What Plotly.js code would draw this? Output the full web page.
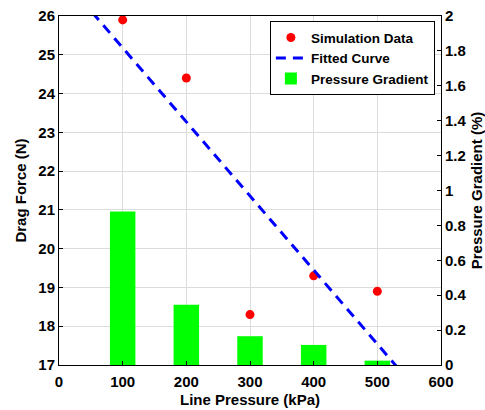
<!DOCTYPE html>
<html>
<head>
<meta charset="utf-8">
<script src="https://cdn.plot.ly/plotly-3.0.1.min.js"></script>
<style>html,body{margin:0;padding:0;background:#fff;}#chart{width:485px;height:410px;}</style>
</head>
<body>
<div id="chart"></div>
<script>
// Data
const pressure = [100, 200, 300, 400, 500];            // Line Pressure (kPa)
const dragForce = [25.9, 24.4, 18.3, 19.3, 18.9];      // Simulation Data (N)
const gradient = [0.88, 0.345, 0.165, 0.115, 0.025];   // Pressure Gradient (%)
const fitX = [0, 600];                                 // Fitted Curve endpoints (kPa)
const fitY = [27.09, 15.63];                           // Fitted Curve values (N)

const FAM = 'Liberation Sans, Arial, sans-serif';
const boldFont = (s) => ({family: FAM, size: s, color: '#000', weight: 'bold'});

const traces = [
  {
    type: 'bar', x: pressure, y: gradient, width: 40,
    name: 'Pressure Gradient', legendrank: 3,
    marker: {color: '#00ff00', line: {width: 0}},
    xaxis: 'x', yaxis: 'y'
  },
  {
    type: 'scatter', mode: 'markers', x: pressure, y: dragForce,
    name: 'Simulation Data', legendrank: 1,
    marker: {color: '#ff0000', size: 9, symbol: 'circle'},
    xaxis: 'x', yaxis: 'y2'
  },
  {
    type: 'scatter', mode: 'lines', x: fitX, y: fitY,
    name: 'Fitted Curve', legendrank: 2,
    line: {color: '#0000ff', width: 3, dash: '10px,7px'},
    xaxis: 'x', yaxis: 'y2'
  }
];

const layout = {
  width: 485, height: 410,
  margin: {l: 59, r: 44, t: 16, b: 45, pad: 0},
  paper_bgcolor: '#fff', plot_bgcolor: '#fff',
  font: {family: FAM, size: 14, color: '#000'},
  showlegend: true,
  legend: {
    x: 0.984, y: 0.985, xanchor: 'right', yanchor: 'top',
    bgcolor: '#fff', bordercolor: '#000', borderwidth: 1,
    font: boldFont(13.5),
    traceorder: 'normal', tracegroupgap: 0, itemwidth: 30
  },
  xaxis: {
    range: [0, 600], tickvals: [0, 100, 200, 300, 400, 500, 600],
    ticks: 'inside', ticklen: 4, tickcolor: '#000',
    showline: true, linecolor: '#000', linewidth: 1, mirror: true,
    showgrid: true, gridcolor: '#dcdcdc', gridwidth: 1, zeroline: false,
    tickfont: boldFont(15), ticklabelstandoff: 3,
    title: {text: 'Line Pressure (kPa)', standoff: 5, font: boldFont(15)}
  },
  yaxis: {
    side: 'right', range: [0, 2],
    tickvals: [0, 0.2, 0.4, 0.6, 0.8, 1, 1.2, 1.4, 1.6, 1.8, 2],
    ticktext: ['0', '0.2', '0.4', '0.6', '0.8', '1', '1.2', '1.4', '1.6', '1.8', '2'],
    ticks: 'inside', ticklen: 4, tickcolor: '#000',
    showline: true, linecolor: '#000', linewidth: 1,
    showgrid: false, zeroline: false,
    tickfont: boldFont(15),
    title: {text: 'Pressure Gradient (%)', standoff: 6, font: boldFont(15)}
  },
  yaxis2: {
    overlaying: 'y', side: 'left', range: [17, 26],
    tickvals: [17, 18, 19, 20, 21, 22, 23, 24, 25, 26],
    ticks: 'inside', ticklen: 4, tickcolor: '#000',
    showline: true, linecolor: '#000', linewidth: 1,
    showgrid: true, gridcolor: '#dcdcdc', gridwidth: 1, zeroline: false,
    tickfont: boldFont(15),
    title: {text: 'Drag Force (N)', standoff: 8, font: boldFont(15)}
  }
};

Plotly.newPlot('chart', traces, layout, {displayModeBar: false, staticPlot: true});
</script>
</body>
</html>
